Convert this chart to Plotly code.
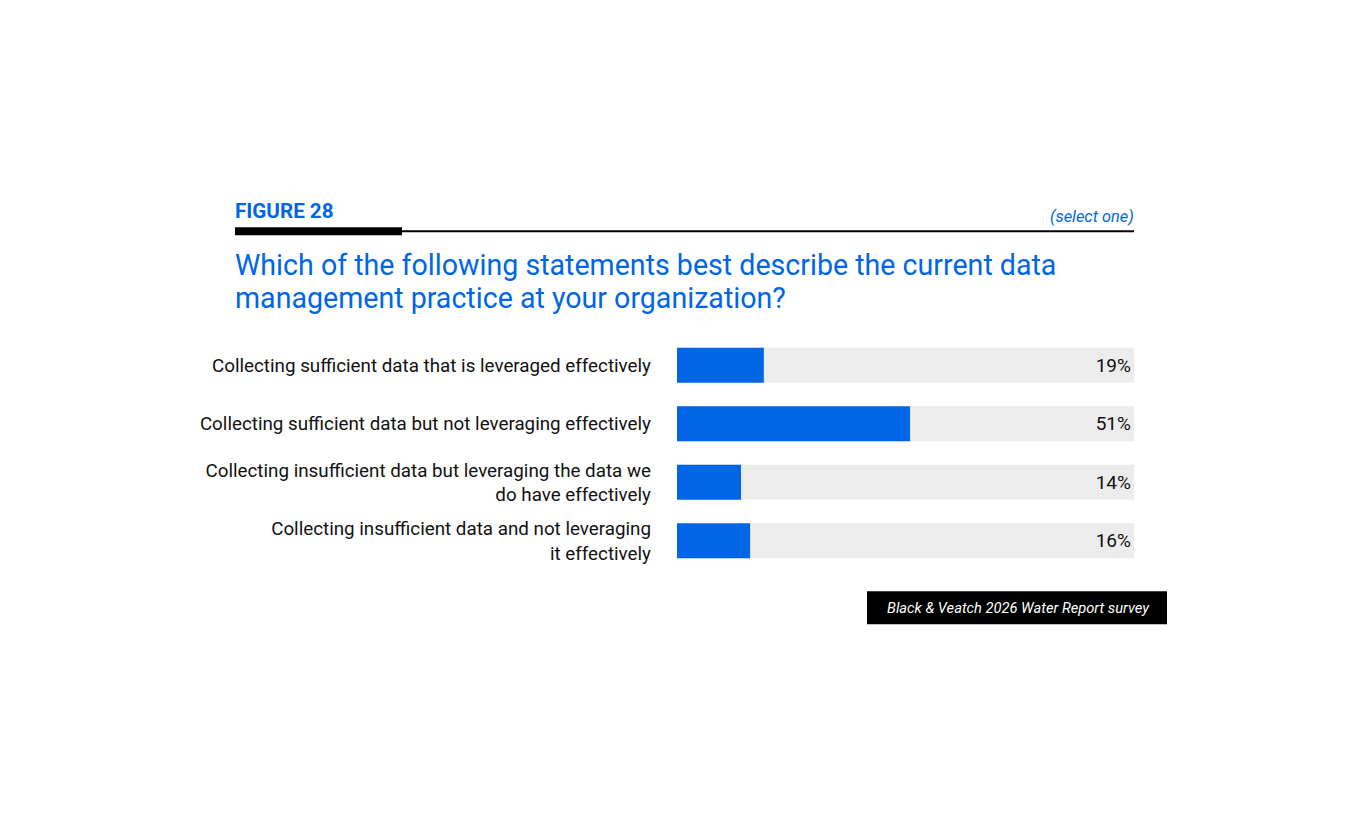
import plotly.graph_objects as go

categories = [
    "Collecting sufficient data that is leveraged effectively",
    "Collecting sufficient data but not leveraging effectively",
    "Collecting insufficient data but leveraging the data we<br>do have effectively",
    "Collecting insufficient data and not leveraging<br>it effectively",
]
values = [19, 51, 14, 16]
value_labels = ["19%", "51%", "14%", "16%"]
full_scale = [100, 100, 100, 100]

BLUE = "#0066E6"
W, H = 1367, 827
L, R = 677, 1134          # plot x extent in px
T, B = 335.75, 569.75     # plot y extent in px

def px(x):
    return (x - L) / (R - L)

def py(y):
    return (B - y) / (B - T)

fig = go.Figure()
fig.add_trace(go.Bar(
    y=categories, x=full_scale, orientation="h",
    marker=dict(color="#ECECEC", line=dict(width=0)),
    text=value_labels, textposition="inside", insidetextanchor="end",
    textfont=dict(family="Roboto", size=19, color="#111111"),
    hoverinfo="skip", showlegend=False,
))
fig.add_trace(go.Bar(
    y=categories, x=values, orientation="h",
    marker=dict(color=BLUE, line=dict(width=0)),
    hoverinfo="skip", showlegend=False,
))

fig.update_layout(
    width=W, height=H,
    margin=dict(l=L, r=W - R, t=T, b=H - B, pad=0),
    barmode="overlay", bargap=0.402,
    paper_bgcolor="white", plot_bgcolor="white",
    font=dict(family="Roboto", color="#111111"),
    xaxis=dict(range=[0, 100], visible=False, fixedrange=True),
    yaxis=dict(autorange="reversed", showgrid=False, zeroline=False, showline=False,
               ticks="", ticklabelstandoff=25,
               tickfont=dict(family="Roboto", size=18.8, color="#111111"),
               fixedrange=True),
    shapes=[
        dict(type="line", xref="paper", yref="paper", x0=px(400), x1=px(1134), y0=py(231), y1=py(231),
             line=dict(color="black", width=2)),
        dict(type="rect", xref="paper", yref="paper", x0=px(235), x1=px(402), y0=py(235), y1=py(227),
             fillcolor="black", line=dict(width=0)),
        dict(type="rect", xref="paper", yref="paper", x0=px(867), x1=px(1167), y0=py(624), y1=py(591),
             fillcolor="black", line=dict(width=0)),
    ],
    annotations=[
        dict(text="<b>FIGURE 28</b>", xref="paper", yref="paper", x=px(233), y=py(211),
             xanchor="left", yanchor="middle", showarrow=False,
             font=dict(family="Roboto", size=20.6, color=BLUE)),
        dict(text="<i>(select one)</i>", xref="paper", yref="paper", x=px(1136), y=py(216),
             xanchor="right", yanchor="middle", showarrow=False,
             font=dict(family="Roboto", size=16.4, color=BLUE)),
        dict(text="Which of the following statements best describe the current data",
             xref="paper", yref="paper", x=px(233), y=py(265),
             xanchor="left", yanchor="middle", align="left", showarrow=False,
             font=dict(family="Roboto", size=28.6, color=BLUE)),
        dict(text="management practice at your organization?",
             xref="paper", yref="paper", x=px(233), y=py(298),
             xanchor="left", yanchor="middle", align="left", showarrow=False,
             font=dict(family="Roboto", size=28.6, color=BLUE)),
        dict(text="<i>Black &amp; Veatch 2026 Water Report survey</i>", xref="paper", yref="paper",
             x=px(1018), y=py(608), xanchor="center", yanchor="middle", showarrow=False,
             font=dict(family="Roboto", size=14.7, color="white")),
    ],
)

fig.write_html("out.html", config={"displayModeBar": False})
